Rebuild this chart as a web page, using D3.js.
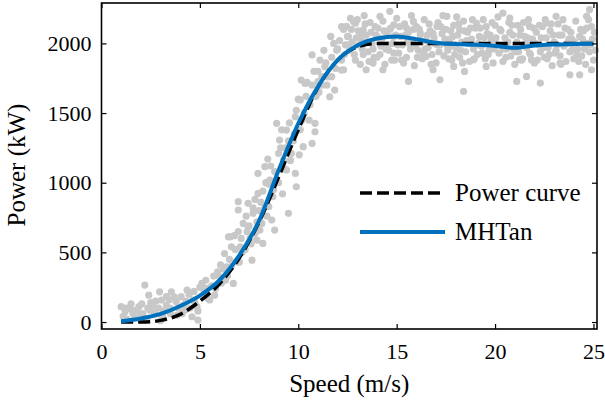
<!DOCTYPE html>
<html>
<head>
<meta charset="utf-8">
<script src="https://cdn.jsdelivr.net/npm/d3@7"></script>
<style>
  body { margin: 0; background: #fff; }
  svg { display: block; }
  text { font-family: "Liberation Serif", "Times New Roman", serif; fill: #000; }
</style>
</head>
<body>
<svg id="chart" width="605" height="404"></svg>
<script>
// reference curves, read at integer speeds
const speeds = [1, 2, 3, 4, 5, 6, 7, 8, 9, 10, 11, 12, 13, 14, 15, 16, 17, 18, 19, 20, 21, 22, 23, 24, 25];
const powerCurve = [0, 0, 12, 55, 150, 275, 460, 715, 1040, 1380, 1685, 1880, 1975, 2000, 2000, 2000, 2000, 2000, 2000, 2000, 2000, 2000, 2000, 2000, 2000];
const mhtan = [5, 25, 58, 115, 190, 300, 478, 725, 1090, 1425, 1690, 1880, 1985, 2035, 2050, 2030, 2005, 1995, 1990, 1982, 1968, 1985, 1992, 1995, 1998];

// measured samples [speed, power]
const lowSamples = [
  [1.0, 110], [1.2, 74], [1.45, 98], [1.6, 62], [1.8, 86], [1.95, 50], [2.2, 265], [2.4, 193], [2.45, 86],
  [2.6, 110], [2.95, 217], [3.05, 158], [3.3, 182], [3.5, 98], [3.55, 217], [3.8, 146], [4.05, 182],
  [4.25, 86], [4.35, 229], [4.6, 38], [4.65, 158], [4.85, 110], [4.9, 14], [1.1, 40], [1.3, 20],
  [1.5, 130], [1.7, 30], [1.9, 110], [2.1, 60], [2.3, 20], [2.5, 140], [2.7, 60], [2.9, 100], [3.1, 40],
  [3.3, 120], [3.5, 60], [3.7, 180], [3.9, 100], [4.1, 60], [4.3, 150], [4.5, 100], [4.7, 220], [4.9, 80],
  [5.0, 250], [1.25, 100], [1.65, 80], [2.05, 130], [2.35, 100], [2.75, 150], [3.15, 80], [3.45, 160],
  [3.85, 50], [4.15, 120], [4.45, 200], [4.75, 140], [2.2, 20], [3.0, 10]
];
const riseSamples = [
  [5.1, 277], [5.35, 241], [5.5, 158], [5.75, 193], [6.0, 325], [6.25, 492], [6.35, 397], [6.55, 612],
  [6.7, 277], [6.85, 433], [6.95, 864], [7.05, 540], [7.2, 708], [7.4, 648], [7.65, 444], [7.7, 780],
  [7.9, 588], [8.05, 660], [8.2, 564], [8.3, 828], [6.45, 612], [6.95, 804], [6.95, 649], [7.45, 852],
  [7.95, 1067], [8.3, 1115], [7.95, 923], [8.55, 1019], [8.5, 828], [8.9, 1426], [9.05, 1306], [9.0, 1211],
  [9.4, 1378], [9.25, 1163], [9.85, 1474], [9.65, 1211], [9.85, 1067], [9.9, 971], [10.25, 1259],
  [10.7, 1282], [10.85, 1366], [10.85, 1426], [10.1, 1594], [10.35, 1713], [10.7, 1917], [11.0, 1725],
  [11.6, 1617], [11.35, 1833], [11.85, 1665], [12.2, 1809], [12.2, 2120], [12.9, 2144], [13.2, 2024],
  [12.55, 2048], [11.7, 1761], [11.2, 1761], [10.15, 1737], [9.4, 1091], [8.65, 732], [9.5, 780],
  [7.45, 684], [7.8, 636], [8.15, 708], [8.8, 660], [5.2, 230], [5.4, 170], [5.6, 260], [5.8, 240],
  [5.9, 360], [6.1, 280], [6.2, 380], [6.4, 330], [6.5, 450], [6.6, 400], [6.8, 520], [7.0, 430],
  [7.1, 600], [7.3, 520], [7.5, 690], [7.6, 560], [7.7, 820], [7.9, 720], [8.0, 800], [8.2, 940],
  [8.4, 760], [8.5, 990], [8.7, 900], [8.8, 1080], [9.0, 1000], [9.1, 1250], [9.3, 1100], [9.5, 1300],
  [9.6, 1160], [9.8, 1350], [9.9, 1520], [10.1, 1380], [10.3, 1500], [10.4, 1620], [10.6, 1560],
  [10.7, 1700], [10.9, 1620], [11.0, 1800], [11.2, 1700], [11.4, 1860], [11.5, 1760], [11.7, 1900],
  [11.9, 1820], [12.0, 1960], [12.2, 1880], [12.4, 1990], [12.3, 2100], [11.8, 2000], [11.1, 1880],
  [5.3, 300], [5.7, 330], [6.05, 410], [6.3, 300], [6.6, 540], [6.75, 620], [7.15, 500], [7.35, 760],
  [7.55, 600], [7.8, 880], [8.1, 860], [8.35, 1000], [8.6, 1120], [8.75, 950], [9.15, 1380], [9.35, 1250],
  [9.55, 1430], [9.75, 1300], [10.0, 1600], [10.2, 1450], [10.45, 1720], [10.55, 1450], [10.8, 1800],
  [11.05, 1650], [11.3, 1950], [11.45, 1700], [11.65, 2050], [11.95, 1950], [12.1, 2020], [12.35, 1920],
  [8.45, 1170], [9.2, 920], [10.05, 1200]
];
const ratedSamples = [
  [12.3, 1811], [12.45, 2122], [12.8, 2158], [13.3, 2098], [13.45, 1811], [13.8, 1859], [14.15, 2194],
  [14.3, 1811], [14.65, 2230], [14.85, 2134], [14.85, 1931], [15.5, 2110], [15.6, 1727], [15.85, 2158],
  [16.2, 2074], [16.5, 1907], [16.85, 1811], [17.05, 2122], [17.2, 1739], [17.55, 2194], [17.7, 1979],
  [17.9, 1835], [18.2, 2098], [18.4, 1655], [18.45, 1799], [18.9, 1883], [19.05, 2146], [19.55, 1835],
  [19.9, 2026], [20.4, 2218], [20.75, 2182], [21.1, 1727], [21.25, 1883], [21.6, 1763], [21.75, 2122],
  [22.3, 1715], [22.6, 2146], [23.1, 2194], [23.3, 1859], [23.8, 1775], [24.3, 1775], [24.65, 2194],
  [24.8, 2242], [24.9, 1811],
  [12.5, 2050], [12.6, 1950], [12.7, 2100], [12.9, 1880], [13.0, 2170], [13.1, 1990], [13.2, 2060],
  [13.3, 1920], [13.4, 2140], [13.5, 2010], [13.6, 1870], [13.7, 2080], [13.8, 1960], [13.9, 2120],
  [14.0, 1900], [14.1, 2040], [14.2, 1980], [14.3, 2160], [14.4, 1850], [14.5, 2070], [14.6, 1950],
  [14.7, 2110], [14.8, 2000], [14.9, 1880], [15.0, 2180], [15.1, 1930], [15.2, 2050], [15.3, 1990],
  [15.4, 2140], [15.5, 1900], [15.6, 2080], [15.7, 1960], [15.8, 2010], [15.9, 1840], [16.0, 2120],
  [16.1, 1950], [16.2, 2060], [16.3, 1890], [16.4, 2170], [16.5, 2020], [16.6, 1970], [16.7, 2090],
  [16.8, 1920], [16.9, 2040], [17.0, 1860], [17.1, 2150], [17.2, 1990], [17.3, 2070], [17.4, 1910],
  [17.5, 2100], [17.6, 1950], [17.7, 2030], [17.8, 1880], [17.9, 2130], [18.0, 1970], [18.1, 2060],
  [18.2, 1900], [18.3, 2010], [18.4, 2160], [18.5, 1940], [18.6, 2080], [18.7, 1870], [18.8, 2030],
  [18.9, 1960], [19.0, 2110], [19.1, 1920], [19.2, 2050], [19.3, 1980], [19.4, 2170], [19.5, 1890],
  [19.6, 2070], [19.7, 1950], [19.8, 2020], [19.9, 1860], [20.0, 2130], [20.1, 1990], [20.2, 1930],
  [20.3, 2090], [20.4, 1870], [20.5, 2040], [20.6, 1960], [20.7, 2150], [20.8, 1910], [20.9, 2060],
  [21.0, 1850], [21.1, 2010], [21.2, 1940], [21.3, 2100], [21.4, 1890], [21.5, 2050], [21.6, 1970],
  [21.7, 2170], [21.8, 1920], [21.9, 2030], [22.0, 1860], [22.1, 2080], [22.2, 1990], [22.3, 1940],
  [22.4, 2120], [22.5, 1900], [22.6, 2040], [22.7, 1970], [22.8, 2090], [22.9, 1840], [23.0, 2010],
  [23.1, 1950], [23.2, 2140], [23.3, 1910], [23.4, 2060], [23.5, 1980], [23.6, 1870], [23.7, 2100],
  [23.8, 1940], [23.9, 2030], [24.0, 1890], [24.1, 2160], [24.2, 1960], [24.3, 2050], [24.4, 1910],
  [24.5, 2090], [24.6, 1850], [24.7, 2000], [24.8, 1940], [24.9, 2120], [25.0, 1880],
  [12.55, 1990], [12.75, 2010], [12.95, 2040], [13.15, 1850], [13.35, 2200], [13.55, 1940], [13.75, 2000],
  [13.95, 2060], [14.15, 1920], [14.35, 2090], [14.55, 1990], [14.75, 1880], [14.95, 2060], [15.15, 2120],
  [15.35, 1860], [15.55, 2030], [15.75, 2200], [15.95, 1980], [16.15, 2100], [16.35, 1930], [16.55, 2060],
  [16.75, 1850], [16.95, 2000], [17.15, 1940], [17.35, 2200], [17.55, 1990], [17.75, 2090], [17.95, 1920],
  [18.15, 2140], [18.35, 1860], [18.55, 2020], [18.75, 2110], [18.95, 1890], [19.15, 2000], [19.35, 1930],
  [19.55, 2120], [19.75, 2060], [19.95, 1960], [20.15, 2190], [20.35, 1980], [20.55, 1900], [20.75, 2080],
  [20.95, 1960], [21.15, 2130], [21.35, 1880], [21.55, 2000], [21.75, 1930], [21.95, 2110], [22.15, 1880],
  [22.35, 2040], [22.55, 2170], [22.75, 1920], [22.95, 2060], [23.15, 1990], [23.35, 1850], [23.55, 2110],
  [23.75, 2030], [23.95, 1960], [24.15, 1920], [24.35, 2100], [24.55, 1960], [24.75, 2170], [24.95, 2030],
  [12.65, 2180], [12.85, 1920], [13.05, 2090], [13.25, 1960], [13.45, 2060], [13.65, 2150], [13.85, 1900],
  [14.05, 2110], [14.25, 2030], [14.45, 1960], [14.65, 2100], [14.85, 2050], [15.05, 1990], [15.25, 1880],
  [15.45, 2060], [15.65, 2000], [15.85, 2100], [16.05, 1900], [16.25, 2010], [16.45, 1960], [16.65, 2140],
  [16.85, 2070], [17.05, 1990], [17.25, 2120], [17.45, 2030], [17.65, 1890], [17.85, 2050], [18.05, 2190],
  [18.25, 1950], [18.45, 2090], [18.65, 2000], [18.85, 2170], [19.05, 1990], [19.25, 2110], [19.45, 2040],
  [19.65, 1920], [19.85, 2150], [20.05, 2040], [20.25, 2100], [20.45, 1960], [20.65, 2010], [20.85, 2130],
  [21.05, 1940], [21.25, 2060], [21.45, 2150], [21.65, 2040], [21.85, 1880], [22.05, 2000], [22.25, 2130],
  [22.45, 1970], [22.65, 1890], [22.85, 2140], [23.05, 1930], [23.25, 2060], [23.45, 2170], [23.65, 2000],
  [23.85, 2080], [24.05, 2010], [24.25, 1870], [24.45, 2030], [24.65, 2110], [24.85, 1990], [25.05, 2080],
  [25.1, 1950]
];

const xTicks = [0, 5, 10, 15, 20, 25];
const yTicks = [0, 500, 1000, 1500, 2000];
const seriesNames = ["Power curve", "MHTan"];

const svg = d3.select("#chart");
const plot = { left: 101.5, right: 597, top: 3, bottom: 329 };

const x = d3.scaleLinear().domain([0, 25.18]).range([plot.left, plot.right]);
const y = d3.scaleLinear().domain([-50, 2290]).range([plot.bottom, plot.top]);

// scatter
const samples = lowSamples.concat(riseSamples, ratedSamples);
svg.append("g")
  .selectAll("circle")
  .data(samples)
  .join("circle")
  .attr("cx", d => x(d[0]))
  .attr("cy", d => y(d[1]))
  .attr("r", 3.6)
  .attr("fill", "#c8c8c8");

const line = (vals) => d3.line()
  .x((d, i) => x(speeds[i]))
  .y(d => y(d))
  .curve(d3.curveMonotoneX)(vals);

svg.append("path")
  .attr("d", line(powerCurve))
  .attr("fill", "none")
  .attr("stroke", "#000")
  .attr("stroke-width", 3.5)
  .attr("stroke-dasharray", "12,5");

svg.append("path")
  .attr("d", line(mhtan))
  .attr("fill", "none")
  .attr("stroke", "#0072BD")
  .attr("stroke-width", 4);

// axes, ticks inward on all four sides
const tk = 5;
svg.append("g").attr("transform", `translate(0,${plot.bottom})`)
  .call(d3.axisBottom(x).tickValues(xTicks).tickSize(-tk).tickPadding(14).tickFormat(d3.format("d")));
svg.append("g").attr("transform", `translate(0,${plot.top})`)
  .call(d3.axisTop(x).tickValues(xTicks).tickSize(-tk).tickFormat(""));
svg.append("g").attr("transform", `translate(${plot.left},0)`)
  .call(d3.axisLeft(y).tickValues(yTicks).tickSize(-tk).tickPadding(10).tickFormat(d3.format("d")));
svg.append("g").attr("transform", `translate(${plot.right},0)`)
  .call(d3.axisRight(y).tickValues(yTicks).tickSize(-tk).tickFormat(""));

svg.selectAll(".domain").remove();
svg.selectAll(".tick line").attr("stroke", "#000").attr("stroke-width", 1.2);
svg.selectAll(".tick text")
  .style("font-family", '"Liberation Serif", "Times New Roman", serif')
  .style("font-size", "22px")
  .attr("fill", "#000");

svg.append("rect")
  .attr("x", plot.left).attr("y", plot.top)
  .attr("width", plot.right - plot.left).attr("height", plot.bottom - plot.top)
  .attr("fill", "none")
  .attr("stroke", "#000")
  .attr("stroke-width", 1.6);

// axis labels
svg.append("text")
  .attr("x", (plot.left + plot.right) / 2)
  .attr("y", 392)
  .attr("text-anchor", "middle")
  .style("font-size", "25px")
  .text("Speed (m/s)");

svg.append("text")
  .attr("transform", "translate(25,165) rotate(-90)")
  .attr("text-anchor", "middle")
  .style("font-size", "25px")
  .text("Power (kW)");

// legend
const legend = svg.append("g");
const legendStyles = [
  { stroke: "#000", dash: "12,5", width: 3.5, cy: 193 },
  { stroke: "#0072BD", dash: null, width: 4, cy: 232 }
];
seriesNames.forEach((name, i) => {
  const s = legendStyles[i];
  legend.append("line")
    .attr("x1", 360).attr("x2", 445)
    .attr("y1", s.cy).attr("y2", s.cy)
    .attr("stroke", s.stroke)
    .attr("stroke-width", s.width)
    .attr("stroke-dasharray", s.dash);
  legend.append("text")
    .attr("x", 455)
    .attr("y", s.cy + 8)
    .style("font-size", "25px")
    .text(name);
});
</script>
</body>
</html>
